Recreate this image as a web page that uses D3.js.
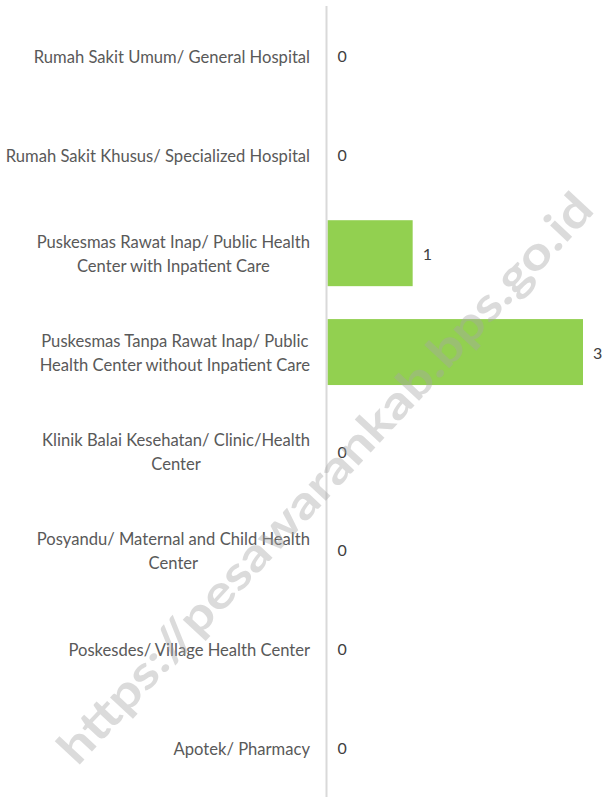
<!DOCTYPE html>
<html>
<head>
<meta charset="utf-8">
<script src="https://cdn.jsdelivr.net/npm/d3@7"></script>
<style>
  html, body { margin: 0; padding: 0; background: #fff; }
  svg { display: block; }
</style>
</head>
<body>
<div class="chart"></div>
<script>
{
  const categories = [
    'Rumah Sakit Umum/ General Hospital',
    'Rumah Sakit Khusus/ Specialized Hospital',
    'Puskesmas Rawat Inap/ Public Health Center with Inpatient Care',
    'Puskesmas Tanpa Rawat Inap/ Public Health Center without Inpatient Care',
    'Klinik Balai Kesehatan/ Clinic/Health Center',
    'Posyandu/ Maternal and Child Health Center',
    'Poskesdes/ Village Health Center',
    'Apotek/ Pharmacy'
  ]
  const values = [0, 0, 1, 3, 0, 0, 0, 0]
  const watermark = 'https://pesawarankab.bps.go.id'

  const width = 602, height = 798
  const margin = { top: 6, right: 19, bottom: 1, left: 327.5 }
  const labelFont = '16.6px Lato, "Open Sans", sans-serif'

  let svg = d3.select('.chart').append('svg')
    .attr('width', width)
    .attr('height', height)

  let x = d3.scaleLinear()
    .domain([0, 3])
    .range([margin.left, 583])

  let y = d3.scaleBand()
    .domain(categories)
    .range([margin.top, height - margin.bottom])
    .paddingInner(0.333)
    .paddingOuter(0.1665)

  // bars
  svg.append('g').selectAll('rect')
    .data(values)
    .enter()
    .append('rect')
    .attr('x', x(0))
    .attr('y', (d, i) => y(categories[i]))
    .attr('width', d => x(d) - x(0))
    .attr('height', y.bandwidth())
    .style('fill', '#92d050')

  // value labels
  svg.append('g').selectAll('text')
    .data(values)
    .enter()
    .append('text')
    .attr('x', d => x(d) + 10)
    .attr('y', (d, i) => y(categories[i]) + y.bandwidth() / 2 + 1)
    .attr('dy', '0.35em')
    .style('font', '16px Lato, "Open Sans", sans-serif')
    .style('fill', '#404040')
    .text(d => d)

  // category labels, wrapped to fit the left column
  let measure = svg.append('text').style('font', labelFont)
  function wrap (str, maxW) {
    let words = str.split(' '), lines = [], cur = ''
    words.forEach(w => {
      let test = cur ? cur + ' ' + w : w
      measure.text(test)
      if (measure.node().getComputedTextLength() > maxW && cur) {
        lines.push(cur)
        cur = w
      } else {
        cur = test
      }
    })
    lines.push(cur)
    return lines
  }

  let labels = svg.append('g').selectAll('text')
    .data(categories)
    .enter()
    .append('text')
    .attr('text-anchor', 'middle')
    .style('font', labelFont)
    .style('fill', '#595959')
    .each(function (d) {
      let lines = wrap(d, 308)
      let el = d3.select(this)
      let cy = y(d) + y.bandwidth() / 2 + 1.5
      let lh = 24
      lines.forEach((l, i) => {
        el.append('tspan')
          .attr('y', cy + (i - (lines.length - 1) / 2) * lh)
          .attr('dy', '0.35em')
          .text(l)
      })
    })
  // block is right aligned at 310, lines centred inside it
  labels.each(function (d) {
    let tspans = d3.select(this).selectAll('tspan')
    let maxW = d3.max(tspans.nodes(), n => n.getComputedTextLength())
    tspans.attr('x', 310 - maxW / 2)
  })
  measure.remove()

  // axis line
  svg.append('line')
    .attr('x1', x(0) - 1)
    .attr('x2', x(0) - 1)
    .attr('y1', 6)
    .attr('y2', 797)
    .style('stroke', '#d9d9d9')
    .style('stroke-width', 2)

  // watermark
  svg.append('text')
    .attr('transform', 'translate(325,478) rotate(-47)')
    .attr('text-anchor', 'middle')
    .attr('dy', '0.35em')
    .attr('textLength', 760)
    .attr('lengthAdjust', 'spacingAndGlyphs')
    .style('font', 'bold 46px Lato, "Open Sans", sans-serif')
    .style('fill', '#a6a6a6')
    .style('opacity', 0.4)
    .text(watermark)
}
</script>
</body>
</html>
